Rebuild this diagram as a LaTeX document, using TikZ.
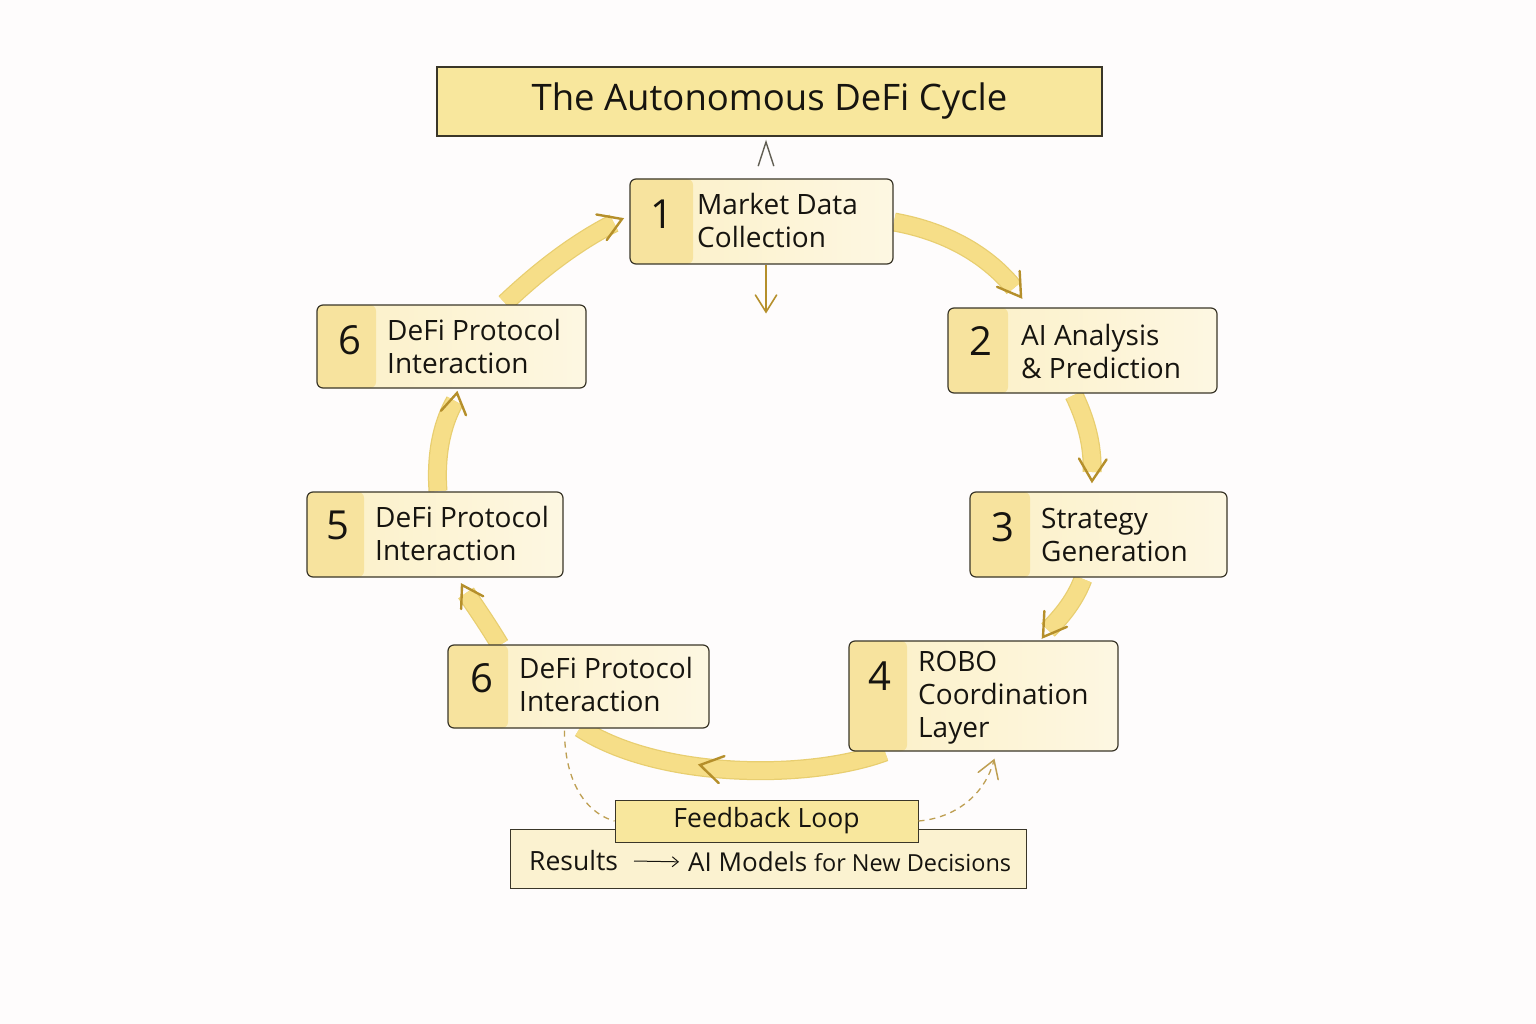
\documentclass[tikz,border=0pt]{standalone}
\usepackage{fontspec}
\setmainfont{Open Sans}
\usetikzlibrary{calc,arrows.meta}
\definecolor{bgc}{HTML}{FEFCFC}
\definecolor{titlec}{HTML}{F8E79D}
\definecolor{linec}{HTML}{3A3628}
\definecolor{stripc}{HTML}{F7E39E}
\definecolor{boxl}{HTML}{FCF0C6}
\definecolor{boxr}{HTML}{FDF7E2}
\definecolor{bandc}{HTML}{F6DE88}
\definecolor{bandedge}{HTML}{E8CE70}
\definecolor{chevc}{HTML}{B58F2B}
\definecolor{dashc}{HTML}{BE9F52}
\definecolor{resc}{HTML}{FBF2D0}
\definecolor{txtc}{HTML}{16140F}
\newcommand\chev[4][chevs]{\draw[#1] ($(#2)+(#3+148:#4)$) -- (#2) -- ($(#2)+(#3-148:#4)$);}
\begin{document}
\begin{tikzpicture}[x=1pt,y=-1pt,
  boxs/.style={draw=linec, line width=1.2pt, rounded corners=6pt, left color=boxl, right color=boxr, inner sep=0pt,
    path picture={\fill[stripc] (path picture bounding box.north west) rectangle ($(path picture bounding box.south west)+(#1,0)$);}},
  numt/.style={text=txtc, font=\fontsize{40}{40}\selectfont, inner sep=0pt},
  lblt/.style={text=txtc, font=\fontsize{28}{33}\selectfont, align=left, anchor=west, inner sep=0pt},
  bandunder/.style={draw=bandedge, line width=19pt},
  bandtop/.style={draw=bandc, line width=16.5pt},
  chevs/.style={draw=chevc, line width=2.4pt, line cap=round, line join=miter},
  greychev/.style={draw=linec!80, line width=1.4pt, line cap=round},
  dashl/.style={draw=dashc, line width=1.3pt, dash pattern=on 6pt off 5pt}
]
\fill[bgc] (0,0) rectangle (1536,1024);
\useasboundingbox (0,0) rectangle (1536,1024);

% title
\node[draw=linec, line width=1.3pt, fill=titlec, minimum width=665, minimum height=69, inner sep=0pt,
  text=txtc, font=\fontsize{36.5}{42}\selectfont] (title) at (769.5,101.5) {The Autonomous DeFi Cycle};

% ---------- bands (drawn first, boxes on top)
\coordinate (s12) at (894,222);
\coordinate (e12) at (1014,288);
\coordinate (s23) at (1074,395);
\coordinate (e23) at (1092,472);
\coordinate (s34) at (1083,579);
\coordinate (e34) at (1048,630);
\coordinate (s46) at (885,752);
\coordinate (e46) at (580,728);
\coordinate (s65) at (500,645);
\coordinate (e65) at (466,593);
\coordinate (s56) at (438,491);
\coordinate (e56) at (455,401);
\coordinate (s61) at (505,303);
\coordinate (e61) at (614,223);

\foreach \st in {bandunder,bandtop}{
  \draw[\st] (s12) .. controls (950,232) and (990,258) .. (e12);
  \draw[\st] (s23) .. controls (1086,420) and (1093,445) .. (e23);
  \draw[\st] (s34) .. controls (1075,600) and (1062,616) .. (e34);
  \draw[\st] (s46) .. controls (810,780) and (660,780) .. (e46);
  \draw[\st] (s65) .. controls (488,625) and (475,606) .. (e65);
  \draw[\st] (s56) .. controls (435,450) and (444,420) .. (e56);
  \draw[\st] (s61) .. controls (540,270) and (575,243) .. (e61);
}

% ---------- boxes
\node[boxs=63, minimum width=263, minimum height=85] (b1) at (761.5,221.5) {};
\node[boxs=60, minimum width=269, minimum height=85] (b2) at (1082.5,350.5) {};
\node[boxs=60, minimum width=257, minimum height=85] (b3) at (1098.5,534.5) {};
\node[boxs=58, minimum width=269, minimum height=110] (b4) at (983.5,696) {};
\node[boxs=60, minimum width=261, minimum height=83] (b6b) at (578.5,686.5) {};
\node[boxs=57, minimum width=256, minimum height=85] (b5) at (435,534.5) {};
\node[boxs=59, minimum width=269, minimum height=83] (b6t) at (451.5,346.5) {};

\node[numt] (n1) at (662,214) {1};
\node[lblt] (t1) at (697,221) {Market Data\\Collection};
\node[numt] (n2) at (981,341) {2};
\node[lblt] (t2) at (1021,351) {AI Analysis\\\& Prediction};
\node[numt] (n3) at (1003,527) {3};
\node[lblt] (t3) at (1041,535) {Strategy\\Generation};
\node[numt] (n4) at (880,676) {4};
\node[lblt] (t4) at (918,698) {ROBO\\Coordination\\Layer};
\node[numt] (n6b) at (482,678) {6};
\node[lblt] (t6b) at (519,684) {DeFi Protocol\\Interaction};
\node[numt] (n5) at (338,525) {5};
\node[lblt] (t5) at (375,533) {DeFi Protocol\\Interaction};
\node[numt] (n6t) at (350,340) {6};
\node[lblt] (t6t) at (387,346) {DeFi Protocol\\Interaction};

% ---------- arrowheads
\coordinate (h12) at (1021,297);
\coordinate (h23) at (1092,481);
\coordinate (h34) at (1043,637);
\coordinate (h46) at (700,765);
\coordinate (h65) at (462,585);
\coordinate (h56) at (457,393);
\coordinate (h61) at (622,219);
\chev{h12}{55}{26}
\chev{h23}{92}{26}
\chev{h34}{125}{26}
\chev{h46}{192}{26}
\chev{h65}{240}{24}
\chev{h56}{280}{24}
\chev{h61}{338}{26}

% down arrow under box 1
\coordinate (dn) at (766,312);
\draw[draw=chevc, line width=1.6pt] (b1.south -| dn) -- (dn);
\chev[draw=chevc, line width=1.6pt, line cap=round]{dn}{90}{20}

% grey chevron under title
\coordinate (up) at (766,142);
\draw[greychev] ($(up)+(72:25)$) -- (up) -- ($(up)+(108:25)$);

% ---------- feedback
\node[draw=linec, line width=1pt, fill=resc, minimum width=516, minimum height=59, inner sep=0pt] (res) at (768,858.5) {};
\node[draw=linec, line width=1pt, fill=titlec, minimum width=303, minimum height=42, inner sep=0pt,
  text=txtc, font=\fontsize{26.5}{28}\selectfont] (fb) at (766.5,821) {Feedback Loop};
\node[text=txtc, font=\fontsize{26.5}{28}\selectfont, inner sep=0pt, anchor=west] (rt) at (529,861) {Results};
\node[text=txtc, font=\fontsize{26}{28}\selectfont, inner sep=0pt, anchor=west] (ai) at (688,862) {AI Models {\fontsize{23.5}{24}\selectfont for New Decisions}};
\draw[draw=txtc, line width=1pt, shorten >=9pt, -{Straight Barb[length=6pt,width=10pt]}] (634,861) -- (ai.west);

\coordinate (dr) at (994,760);
\draw[dashl] ($(b6b.south west)+(117,2)$) .. controls (565,790) and (592,815) .. (fb.west);
\draw[dashl] (fb.east) .. controls (955,818) and (985,795) .. (dr);
\chev[draw=dashc, line width=1.5pt, line cap=round]{dr}{290}{20}
\end{tikzpicture}
\end{document}
